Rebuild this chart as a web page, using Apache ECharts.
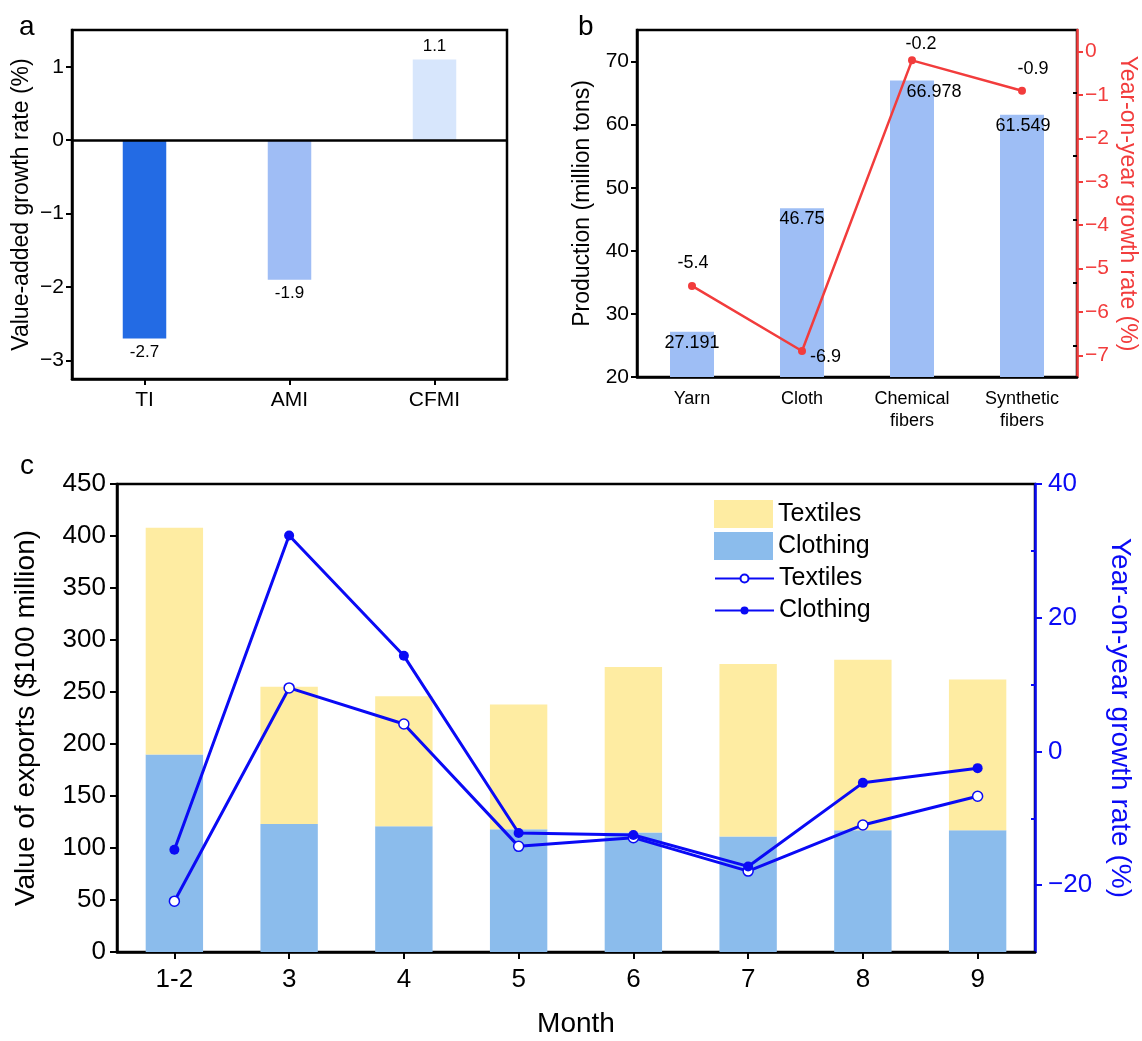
<!DOCTYPE html>
<html>
<head>
<meta charset="utf-8">
<script src="https://cdn.jsdelivr.net/npm/echarts@6/dist/echarts.min.js"></script>
<style>
html,body{margin:0;padding:0;background:#fff;}
#chart{width:1142px;height:1041px;}
</style>
</head>
<body>
<div id="chart"></div>
<script>
// ---------- Panel a data ----------
const aCategories = ['TI', 'AMI', 'CFMI'];
const aValues = [-2.7, -1.9, 1.1];
const aTicks = [-3, -2, -1, 0, 1];

// ---------- Panel b data ----------
const bCategories = ['Yarn', 'Cloth', 'Chemical\nfibers', 'Synthetic\nfibers'];
const bProduction = [27.191, 46.75, 66.978, 61.549];
const bGrowth = [-5.4, -6.9, -0.2, -0.9];
const bLeftTicks = [20, 30, 40, 50, 60, 70];
const bLeftMinorTicks = [25, 35, 45, 55, 65];
const bRightTicks = [0, -1, -2, -3, -4, -5, -6, -7];

// ---------- Panel c data ----------
const cMonths = ['1-2', '3', '4', '5', '6', '7', '8', '9'];
const cClothingExports = [190, 123, 121, 118, 115, 111, 117, 117];
const cTextilesExports = [218, 132, 125, 120, 159, 166, 164, 145];
const cTextilesGrowth = [-22.4, 9.5, 4.1, -14.2, -12.9, -17.9, -11.0, -6.7];
const cClothingGrowth = [-14.7, 32.3, 14.3, -12.2, -12.5, -17.2, -4.7, -2.5];
const cLeftTicks = [0, 50, 100, 150, 200, 250, 300, 350, 400, 450];
const cRightTicks = [-20, 0, 20, 40];
const cRightMinorTicks = [-10, 10, 30];

// ---------- styles ----------
const FONT = 'Liberation Sans, Arial, sans-serif';
const aColors = ['#236be4', '#9fbdf5', '#d7e6fc'];
const bBarColor = '#9ebef5';
const bLineColor = '#f23c3c';
const cTextilesColor = '#feeca2';
const cClothingColor = '#8bbcec';
const cLineColor = '#0a0af5';
const minus = v => String(v).replace('-', '\u2212');
// label placement tweaks for the panel b line / bars (style only)
const bLineLabelPos = [
  {position: 'top', distance: 10, offset: [1, 0]},
  {position: 'right', distance: 4, offset: [0, 6]},
  {position: 'top', distance: 3, offset: [9, 0]},
  {position: 'top', distance: 9, offset: [11, 0]}
];
const bBarLabelOffset = [[0, 0], [0, 0], [22, 0], [1, 0]];

const chart = echarts.init(document.getElementById('chart'), null, {renderer: 'canvas'});

const axisLineBlack = {show: true, lineStyle: {color: '#000', width: 2.5}};
const tickBlack = {show: true, length: 6, lineStyle: {color: '#000', width: 2}};

const option = {
  backgroundColor: '#fff',
  animation: false,
  textStyle: {fontFamily: FONT},
  graphic: [
    {type: 'text', left: 19, top: 13, style: {text: 'a', font: '28px ' + FONT, fill: '#000'}},
    {type: 'text', left: 578, top: 13, style: {text: 'b', font: '28px ' + FONT, fill: '#000'}},
    {type: 'text', left: 20, top: 452, style: {text: 'c', font: '28px ' + FONT, fill: '#000'}}
  ],
  grid: [
    {left: 72, top: 30, width: 435, height: 349, show: true, borderColor: '#000', borderWidth: 2.5, containLabel: false},
    {left: 637, top: 30, width: 440, height: 347, show: true, borderColor: '#000', borderWidth: 2.5, containLabel: false},
    {left: 117, top: 484, width: 922, height: 468, show: true, borderColor: '#000', borderWidth: 2.5, containLabel: false}
  ],
  xAxis: [
    {
      gridIndex: 0, type: 'category', data: aCategories,
      axisLine: Object.assign({onZero: false}, axisLineBlack),
      axisTick: Object.assign({alignWithLabel: true}, tickBlack),
      axisLabel: {color: '#000', fontSize: 21, margin: 11, fontFamily: FONT}
    },
    {
      gridIndex: 1, type: 'category', data: bCategories,
      axisLine: Object.assign({onZero: false}, axisLineBlack),
      axisTick: {show: false},
      axisLabel: {color: '#000', fontSize: 18, margin: 11, lineHeight: 22, fontFamily: FONT}
    },
    {
      gridIndex: 2, type: 'category', data: cMonths,
      name: 'Month', nameLocation: 'middle', nameGap: 58,
      nameTextStyle: {color: '#000', fontSize: 28, fontFamily: FONT},
      axisLine: Object.assign({onZero: false}, axisLineBlack),
      axisTick: Object.assign({alignWithLabel: true}, tickBlack, {length: 7}),
      axisLabel: {color: '#000', fontSize: 26, margin: 15, fontFamily: FONT}
    }
  ],
  yAxis: [
    {
      gridIndex: 0, type: 'value', min: -3.25, max: 1.5,
      name: 'Value-added growth rate (%)', nameLocation: 'middle', nameGap: 39,
      nameTextStyle: {color: '#000', fontSize: 23, fontFamily: FONT},
      axisLine: axisLineBlack,
      axisTick: Object.assign({customValues: aTicks}, tickBlack),
      axisLabel: {customValues: aTicks, color: '#000', fontSize: 21, margin: 8, formatter: minus, fontFamily: FONT},
      splitLine: {show: false}
    },
    {
      gridIndex: 1, type: 'value', min: 20, max: 75,
      name: 'Production (million tons)', nameLocation: 'middle', nameGap: 43,
      nameTextStyle: {color: '#000', fontSize: 23, fontFamily: FONT},
      axisLine: axisLineBlack,
      axisTick: Object.assign({customValues: bLeftTicks}, tickBlack),
      axisLabel: {customValues: bLeftTicks, color: '#000', fontSize: 21, margin: 8, fontFamily: FONT},
      splitLine: {show: false}
    },
    {
      gridIndex: 1, type: 'value', min: -7.5, max: 0.5, position: 'right',
      name: 'Year-on-year growth rate (%)', nameLocation: 'middle', nameGap: 39, nameRotate: -90,
      nameTextStyle: {color: bLineColor, fontSize: 23, fontFamily: FONT},
      axisLine: {show: true, lineStyle: {color: bLineColor, width: 2.5}},
      axisTick: {show: true, customValues: bRightTicks, length: 6, lineStyle: {color: bLineColor, width: 2}},
      axisLabel: {customValues: bRightTicks, color: bLineColor, fontSize: 21, margin: 8, formatter: minus, fontFamily: FONT},
      splitLine: {show: false}
    },
    {
      gridIndex: 1, type: 'value', min: 20, max: 75,
      axisLine: {show: false},
      axisTick: {show: true, inside: true, customValues: bLeftMinorTicks, length: 4, lineStyle: {color: '#000', width: 2}},
      axisLabel: {show: false},
      splitLine: {show: false}
    },
    {
      gridIndex: 2, type: 'value', min: 0, max: 450,
      name: 'Value of exports ($100 million)', nameLocation: 'middle', nameGap: 77,
      nameTextStyle: {color: '#000', fontSize: 28, fontFamily: FONT},
      axisLine: axisLineBlack,
      axisTick: Object.assign({customValues: cLeftTicks}, tickBlack, {length: 7}),
      axisLabel: {customValues: cLeftTicks, color: '#000', fontSize: 26, margin: 11, fontFamily: FONT},
      splitLine: {show: false}
    },
    {
      gridIndex: 2, type: 'value', min: -30, max: 40, position: 'right',
      name: 'Year-on-year growth rate (%)', nameLocation: 'middle', nameGap: 71, nameRotate: -90,
      nameTextStyle: {color: cLineColor, fontSize: 28, fontFamily: FONT},
      axisLine: {show: true, lineStyle: {color: cLineColor, width: 2.5}},
      axisTick: {show: true, customValues: cRightTicks, length: 7, lineStyle: {color: cLineColor, width: 2}},
      axisLabel: {customValues: cRightTicks, color: cLineColor, fontSize: 26, margin: 13, formatter: minus, fontFamily: FONT},
      splitLine: {show: false}
    },
    {
      gridIndex: 2, type: 'value', min: -30, max: 40, position: 'right',
      axisLine: {show: false},
      axisTick: {show: true, inside: true, customValues: cRightMinorTicks, length: 4, lineStyle: {color: cLineColor, width: 2}},
      axisLabel: {show: false},
      splitLine: {show: false}
    }
  ],
  legend: [
    {
      data: ['Textiles', 'Clothing'],
      orient: 'vertical', left: 709, top: 495, icon: 'rect',
      itemWidth: 59, itemHeight: 28, itemGap: 4,
      textStyle: {color: '#000', fontSize: 25, fontFamily: FONT},
      selectedMode: false
    },
    {
      data: ['Textiles YoY', 'Clothing YoY'],
      orient: 'vertical', left: 709, top: 561,
      itemWidth: 59, itemHeight: 10, itemGap: 7,
      formatter: n => n.replace(' YoY', ''),
      textStyle: {color: '#000', fontSize: 25, fontFamily: FONT},
      selectedMode: false
    }
  ],
  series: [
    {
      type: 'bar', xAxisIndex: 0, yAxisIndex: 0, barWidth: '30%',
      data: aValues.map((v, i) => ({
        value: v,
        itemStyle: {color: aColors[i]},
        label: {show: true, position: v < 0 ? 'bottom' : 'top', distance: 5, color: '#000', fontSize: 17, fontFamily: FONT}
      })),
      markLine: {
        silent: true, symbol: 'none',
        lineStyle: {color: '#000', width: 2.5, type: 'solid'},
        label: {show: false},
        data: [{yAxis: 0}]
      }
    },
    {
      type: 'bar', xAxisIndex: 1, yAxisIndex: 1, barWidth: '40%',
      itemStyle: {color: bBarColor},
      data: bProduction.map((v, i) => ({
        value: v,
        label: {show: true, position: 'insideTop', distance: 2, offset: bBarLabelOffset[i], color: '#000', fontSize: 18, fontFamily: FONT}
      }))
    },
    {
      type: 'line', xAxisIndex: 1, yAxisIndex: 2,
      symbol: 'circle', symbolSize: 8,
      lineStyle: {color: bLineColor, width: 2.5},
      itemStyle: {color: bLineColor},
      data: bGrowth.map((v, i) => ({
        value: v,
        label: Object.assign({show: true, color: '#000', fontSize: 18, fontFamily: FONT}, bLineLabelPos[i])
      })),
      z: 5
    },
    {
      name: 'Clothing', type: 'bar', xAxisIndex: 2, yAxisIndex: 4, stack: 'exp', barWidth: '50%',
      itemStyle: {color: cClothingColor},
      data: cClothingExports
    },
    {
      name: 'Textiles', type: 'bar', xAxisIndex: 2, yAxisIndex: 4, stack: 'exp', barWidth: '50%',
      itemStyle: {color: cTextilesColor},
      data: cTextilesExports
    },
    {
      name: 'Textiles YoY', type: 'line', xAxisIndex: 2, yAxisIndex: 5,
      symbol: 'circle', symbolSize: 10,
      lineStyle: {color: cLineColor, width: 3},
      itemStyle: {color: '#fff', borderColor: cLineColor, borderWidth: 1.5},
      data: cTextilesGrowth, z: 5
    },
    {
      name: 'Clothing YoY', type: 'line', xAxisIndex: 2, yAxisIndex: 5,
      symbol: 'circle', symbolSize: 10,
      lineStyle: {color: cLineColor, width: 3},
      itemStyle: {color: cLineColor},
      data: cClothingGrowth, z: 6
    }
  ]
};
chart.setOption(option);
</script>
</body>
</html>
